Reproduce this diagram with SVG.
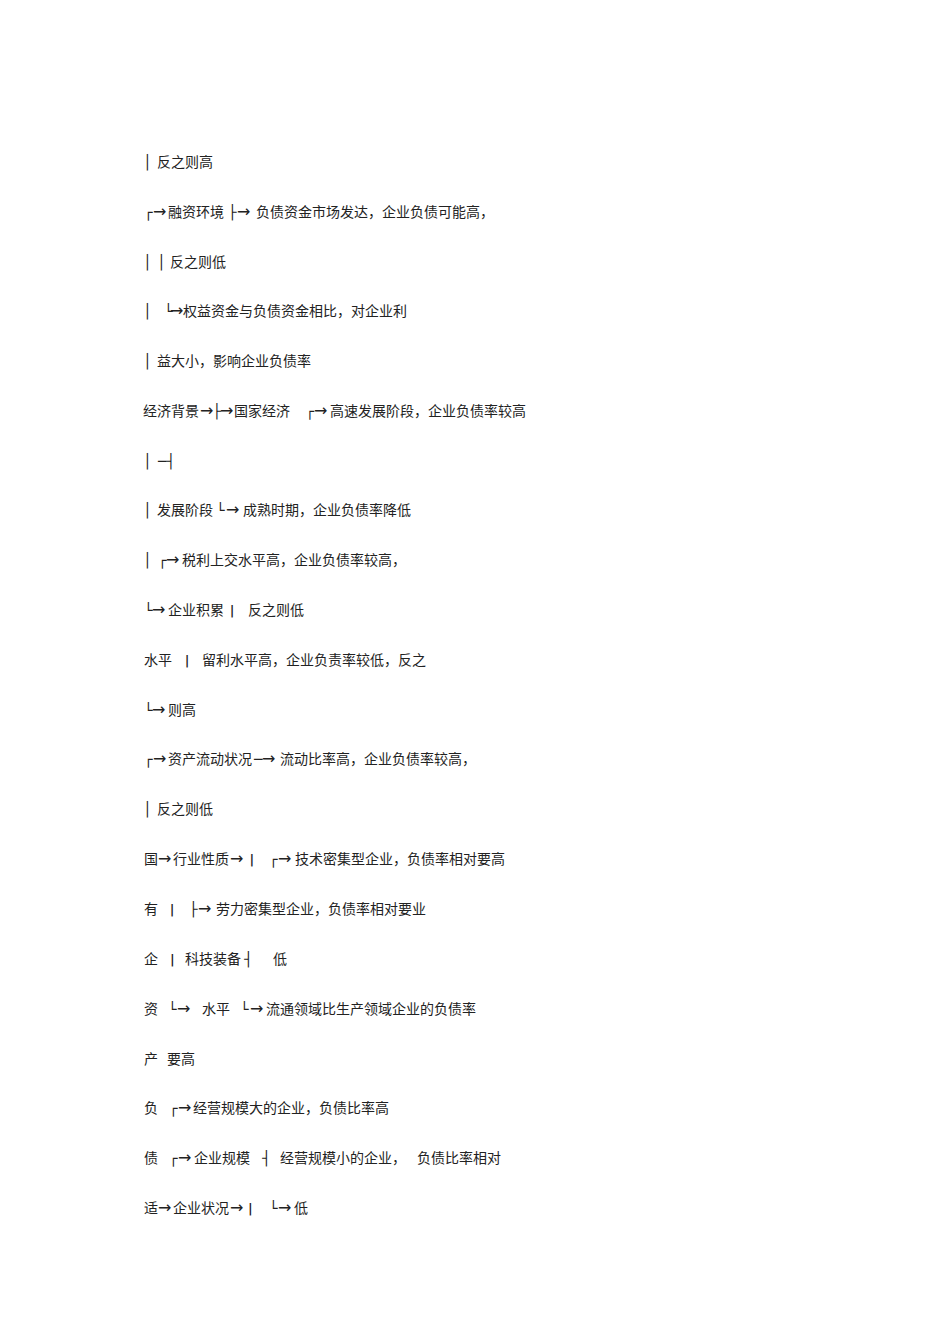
<svg xmlns="http://www.w3.org/2000/svg" width="950" height="1344" viewBox="0 0 950 1344">
<style>
.t{font-family:"Noto Sans CJK SC","Noto Sans CJK TC",sans-serif;font-size:14px;fill:#222}
.b{font-family:"DejaVu Sans Mono",monospace;font-size:14px;fill:#222}
.a{font-family:"DejaVu Sans",sans-serif;font-size:16px;fill:#222}
.p{font-family:"DejaVu Sans Mono",monospace;font-size:12px;font-weight:bold;fill:#222}
</style>
<rect width="950" height="1344" fill="#fff"/>
<g id="line01"><text y="167"><tspan class="b" x="143">│</tspan><tspan class="t" x="157">反之则高</tspan></text></g>
<g id="line02"><text y="217"><tspan class="b" x="144">┌</tspan><tspan class="a" x="153">→</tspan><tspan class="t" x="168">融资环境</tspan><tspan class="b" x="228">├</tspan><tspan class="a" x="237">→</tspan><tspan class="t" x="256">负债资金市场发达，企业负债可能高，</tspan></text></g>
<g id="line03"><text y="267"><tspan class="b" x="143">│</tspan><tspan class="b" x="157">│</tspan><tspan class="t" x="170">反之则低</tspan></text></g>
<g id="line04"><text y="316"><tspan class="b" x="143">│</tspan><tspan class="b" x="164">└</tspan><tspan class="a" x="170">→</tspan><tspan class="t" x="183">权益资金与负债资金相比，对企业利</tspan></text></g>
<g id="line05"><text y="366"><tspan class="b" x="143">│</tspan><tspan class="t" x="157">益大小，影响企业负债率</tspan></text></g>
<g id="line06"><text y="416"><tspan class="t" x="143">经济背景</tspan><tspan class="a" x="200">→</tspan><tspan class="b" x="212.5">├</tspan><tspan class="a" x="220">→</tspan><tspan class="t" x="234">国家经济</tspan><tspan class="b" x="305.5">┌</tspan><tspan class="a" x="314">→</tspan><tspan class="t" x="330">高速发展阶段，企业负债率较高</tspan></text></g>
<g id="line07"><text y="466"><tspan class="b" x="143">│</tspan><tspan class="b" x="158">─┤</tspan></text></g>
<g id="line08"><text y="515"><tspan class="b" x="143">│</tspan><tspan class="t" x="157">发展阶段</tspan><tspan class="b" x="216">└</tspan><tspan class="a" x="226">→</tspan><tspan class="t" x="243">成熟时期，企业负债率降低</tspan></text></g>
<g id="line09"><text y="565"><tspan class="b" x="143">│</tspan><tspan class="b" x="158">┌</tspan><tspan class="a" x="166">→</tspan><tspan class="t" x="182">税利上交水平高，企业负债率较高，</tspan></text></g>
<g id="line10"><text y="615"><tspan class="b" x="144">└</tspan><tspan class="a" x="152">→</tspan><tspan class="t" x="168">企业积累</tspan><tspan class="p" x="228.4">|</tspan><tspan class="t" x="248">反之则低</tspan></text></g>
<g id="line11"><text y="665"><tspan class="t" x="144">水平</tspan><tspan class="p" x="183.4">|</tspan><tspan class="t" x="202">留利水平高，企业负责率较低，反之</tspan></text></g>
<g id="line12"><text y="715"><tspan class="b" x="144">└</tspan><tspan class="a" x="152">→</tspan><tspan class="t" x="168">则高</tspan></text></g>
<g id="line13"><text y="764"><tspan class="b" x="144">┌</tspan><tspan class="a" x="153">→</tspan><tspan class="t" x="168">资产流动状况</tspan><tspan class="b" x="254">─</tspan><tspan class="a" x="262">→</tspan><tspan class="t" x="280">流动比率高，企业负债率较高，</tspan></text></g>
<g id="line14"><text y="814"><tspan class="b" x="143">│</tspan><tspan class="t" x="157">反之则低</tspan></text></g>
<g id="line15"><text y="864"><tspan class="t" x="144">国</tspan><tspan class="a" x="158">→</tspan><tspan class="t" x="173">行业性质</tspan><tspan class="a" x="230">→</tspan><tspan class="p" x="248.2">|</tspan><tspan class="b" x="269">┌</tspan><tspan class="a" x="278">→</tspan><tspan class="t" x="295">技术密集型企业，负债率相对要高</tspan></text></g>
<g id="line16"><text y="914"><tspan class="t" x="144">有</tspan><tspan class="p" x="168.4">|</tspan><tspan class="b" x="189">├</tspan><tspan class="a" x="198">→</tspan><tspan class="t" x="216">劳力密集型企业，负债率相对要业</tspan></text></g>
<g id="line17"><text y="964"><tspan class="t" x="144">企</tspan><tspan class="p" x="168.7">|</tspan><tspan class="t" x="185">科技装备</tspan><tspan class="b" x="244">┤</tspan><tspan class="t" x="273">低</tspan></text></g>
<g id="line18"><text y="1014"><tspan class="t" x="144">资</tspan><tspan class="b" x="168">└</tspan><tspan class="a" x="177">→</tspan><tspan class="t" x="202">水平</tspan><tspan class="b" x="240">└</tspan><tspan class="a" x="250">→</tspan><tspan class="t" x="266">流通领域比生产领域企业的负债率</tspan></text></g>
<g id="line19"><text y="1064"><tspan class="t" x="144">产</tspan><tspan class="t" x="167">要高</tspan></text></g>
<g id="line20"><text y="1113"><tspan class="t" x="144">负</tspan><tspan class="b" x="169">┌</tspan><tspan class="a" x="178">→</tspan><tspan class="t" x="193">经营规模大的企业，负债比率高</tspan></text></g>
<g id="line21"><text y="1163"><tspan class="t" x="144">债</tspan><tspan class="b" x="169">┌</tspan><tspan class="a" x="178">→</tspan><tspan class="t" x="194">企业规模</tspan><tspan class="b" x="262">┤</tspan><tspan class="t" x="280">经营规模小的企业，</tspan><tspan class="t" x="417">负债比率相对</tspan></text></g>
<g id="line22"><text y="1213"><tspan class="t" x="144">适</tspan><tspan class="a" x="158">→</tspan><tspan class="t" x="173">企业状况</tspan><tspan class="a" x="230">→</tspan><tspan class="p" x="246.7">|</tspan><tspan class="b" x="269">└</tspan><tspan class="a" x="278">→</tspan><tspan class="t" x="294">低</tspan></text></g>
</svg>
